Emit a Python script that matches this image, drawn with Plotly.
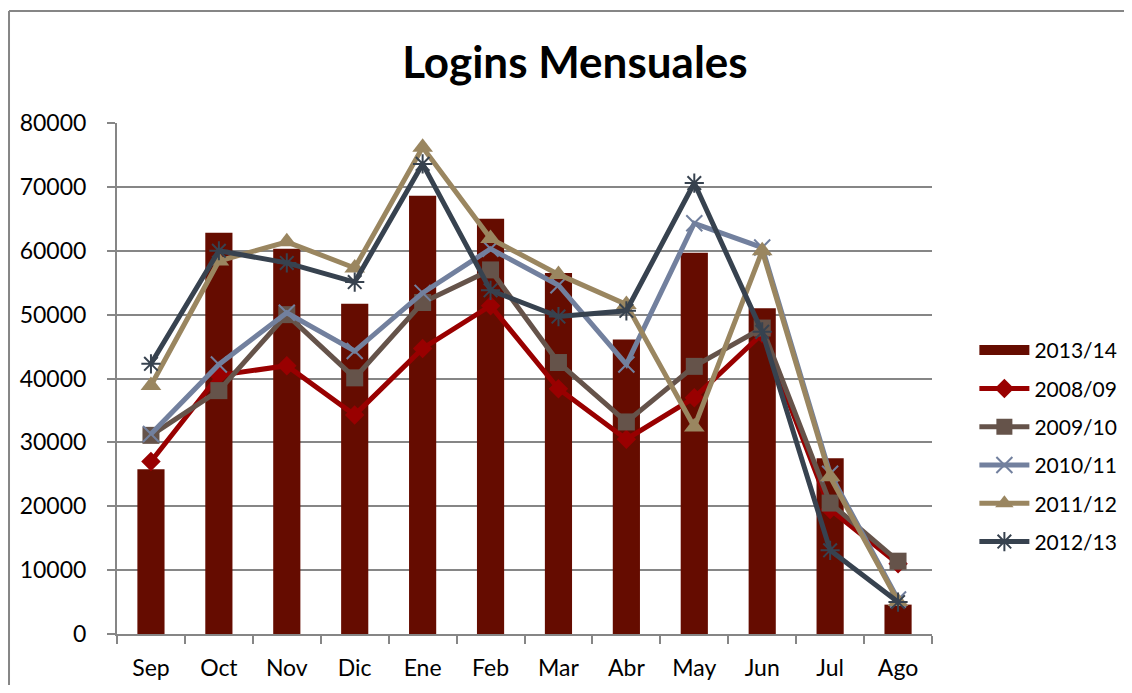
import plotly.graph_objects as go

# Data
months = ["Sep", "Oct", "Nov", "Dic", "Ene", "Feb", "Mar", "Abr", "May", "Jun", "Jul", "Ago"]

logins_1314 = [25800, 62800, 60300, 51700, 68600, 65000, 56500, 46100, 59700, 51000, 27500, 4600]
logins_0809 = [27000, 40500, 42000, 34300, 44700, 51400, 38400, 30500, 37000, 47000, 19500, 11000]
logins_0910 = [31100, 38100, 50000, 40100, 51900, 57000, 42500, 33200, 41900, 47900, 20500, 11400]
logins_1011 = [31300, 42200, 50300, 44300, 53400, 60300, 54600, 42200, 64300, 60500, 25100, 5400]
logins_1112 = [38900, 58400, 61400, 57300, 76200, 61900, 56300, 51600, 32400, 60000, 24600, 5100]
logins_1213 = [42300, 60000, 58100, 55100, 73600, 53800, 49700, 50600, 70600, 47300, 13100, 5000]

y_ticks = [0, 10000, 20000, 30000, 40000, 50000, 60000, 70000, 80000]

grid_color = "#868686"
bar_color = "#650C00"

fig = go.Figure()

# bars, legend shown through a wide swatch below
fig.add_trace(go.Bar(
    x=months, y=logins_1314, name="2013/14", showlegend=False, legendgroup="g0",
    marker=dict(color=bar_color, line=dict(width=0)),
))
fig.add_trace(go.Scatter(
    x=[None], y=[None], name="2013/14", mode="lines", legendgroup="g0",
    line=dict(color=bar_color, width=14),
))

lines = [
    ("2008/09", logins_0809, "#990000", dict(symbol="diamond", size=15)),
    ("2009/10", logins_0910, "#65534A", dict(symbol="square", size=17)),
    ("2010/11", logins_1011, "#72809E", dict(symbol="x-thin-open", size=16, line=dict(width=2, color="#72809E"))),
    ("2011/12", logins_1112, "#9A8660", dict(symbol="triangle-up", size=18)),
    ("2012/13", logins_1213, "#37424F", dict(symbol="asterisk-open", size=16, line=dict(width=2, color="#37424F"))),
]

for i, (name, vals, color, mk) in enumerate(lines):
    mk = dict(mk)
    mk["color"] = color
    fig.add_trace(go.Scatter(
        x=months, y=vals, name=name, mode="lines+markers", legendgroup=f"g{i + 1}",
        line=dict(color=color, width=5),
        marker=mk,
    ))

# outer chart border: only top and left edges fall inside the picture
border = dict(color=grid_color, width=2)
fig.add_shape(type="line", xref="paper", yref="paper", x0=-0.1325, x1=1.5, y0=1.219, y1=1.219,
              line=border, layer="below")
fig.add_shape(type="line", xref="paper", yref="paper", x0=-0.1325, x1=-0.1325, y0=-0.5, y1=1.219,
              line=border, layer="below")

fig.update_layout(
    width=1116, height=677,
    paper_bgcolor="white", plot_bgcolor="white",
    margin=dict(l=109, r=192, t=115, b=51, autoexpand=False),
    font=dict(family="Lato", size=23, color="black"),
    title=dict(text="<b>Logins Mensuales</b>", x=0.508, xanchor="center",
               y=0.920, yanchor="middle",
               font=dict(family="Lato", size=44, color="black")),
    bargap=0.6,
    showlegend=True,
    legend=dict(x=1.052, xanchor="left", y=0.368, yanchor="middle",
                font=dict(family="Lato", size=21), itemwidth=50,
                tracegroupgap=8, bgcolor="rgba(0,0,0,0)"),
)

fig.update_xaxes(
    range=[-0.5, 11.5],
    showline=True, linecolor=grid_color, linewidth=2,
    ticks="outside", tickson="boundaries", ticklen=8, tickcolor=grid_color, tickwidth=2,
    showgrid=False, tickfont=dict(size=23), ticklabelstandoff=12,
)
fig.update_yaxes(
    range=[0, 80000], tickvals=y_ticks, tickformat="d",
    showline=True, linecolor=grid_color, linewidth=2,
    ticks="outside", ticklen=8, tickcolor=grid_color, tickwidth=2,
    showgrid=True, gridcolor=grid_color, gridwidth=2, zeroline=False,
    tickfont=dict(size=23), ticklabelstandoff=16,
)

fig.write_html("out.html")
